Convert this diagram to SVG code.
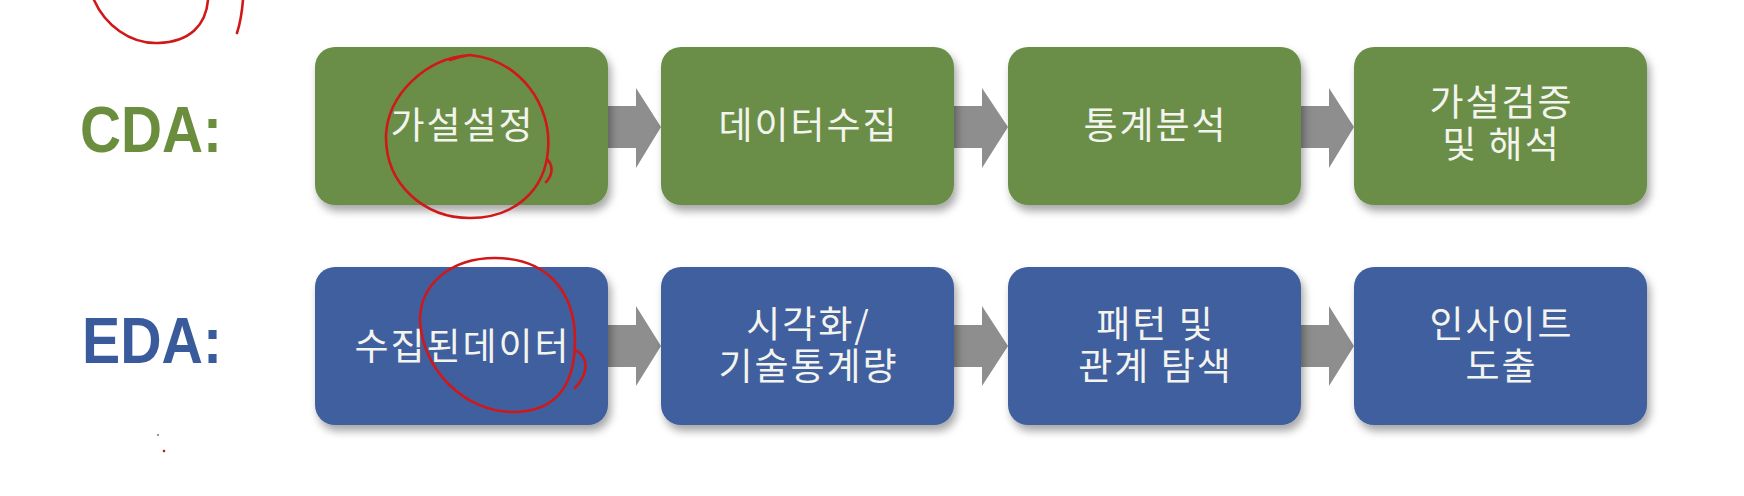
<svg xmlns="http://www.w3.org/2000/svg" width="1744" height="496" viewBox="0 0 1744 496">
<style>
.g{fill:#6B8E46}
.b{fill:#3F5F9F}
.t{font-family:"Noto Sans CJK KR","Noto Sans",sans-serif;font-size:37px;letter-spacing:2px;fill:#F4F4EE;text-anchor:middle}
.lab{font-family:"Liberation Sans",Arial,sans-serif;font-weight:bold;font-size:64px}
.arr{fill:#8E8E8E}
.red{fill:none;stroke:#D01818;stroke-width:2.6;stroke-linecap:round;stroke-linejoin:round}
</style>
<defs>
<filter id="sh" x="-10%" y="-10%" width="125%" height="130%">
<feDropShadow dx="3" dy="6" stdDeviation="4" flood-color="#000" flood-opacity="0.35"/>
</filter>
</defs>
<rect width="1744" height="496" fill="#FFFFFF"/>
<text class="lab" x="80" y="152" fill="#6A8E3D" textLength="142" lengthAdjust="spacingAndGlyphs">CDA:</text>
<text class="lab" x="82" y="363" fill="#3A5B9B" textLength="140" lengthAdjust="spacingAndGlyphs">EDA:</text>
<g id="connectors">
<polygon class="arr" points="606,106 636,106 636,88 661,127 636,168 636,148 606,148"/>
<polygon class="arr" points="952,106 982,106 982,88 1008,127 982,168 982,148 952,148"/>
<polygon class="arr" points="1299,106 1329,106 1329,88 1354,127 1329,168 1329,148 1299,148"/>
<polygon class="arr" points="606,325 636,325 636,306 661,346 636,386 636,367 606,367"/>
<polygon class="arr" points="952,325 982,325 982,306 1008,346 982,386 982,367 952,367"/>
<polygon class="arr" points="1299,325 1329,325 1329,306 1354,346 1329,386 1329,367 1299,367"/>
</g>
<g id="cda1"><rect class="g" x="315" y="47" width="293" height="158" rx="20" filter="url(#sh)"/><text class="t" x="462.5" y="139">가설설정</text></g>
<g id="cda2"><rect class="g" x="661" y="47" width="293" height="158" rx="20" filter="url(#sh)"/><text class="t" x="808.5" y="139">데이터수집</text></g>
<g id="cda3"><rect class="g" x="1008" y="47" width="293" height="158" rx="20" filter="url(#sh)"/><text class="t" x="1155.5" y="139">통계분석</text></g>
<g id="cda4"><rect class="g" x="1354" y="47" width="293" height="158" rx="20" filter="url(#sh)"/><text class="t" x="1501.5" y="116">가설검증<tspan x="1501.5" dy="42">및 해석</tspan></text></g>
<g id="eda1"><rect class="b" x="315" y="267" width="293" height="158" rx="20" filter="url(#sh)"/><text class="t" x="462.5" y="360">수집된데이터</text></g>
<g id="eda2"><rect class="b" x="661" y="267" width="293" height="158" rx="20" filter="url(#sh)"/><text class="t" x="808.5" y="338">시각화/<tspan x="808.5" dy="42">기술통계량</tspan></text></g>
<g id="eda3"><rect class="b" x="1008" y="267" width="293" height="158" rx="20" filter="url(#sh)"/><text class="t" x="1155.5" y="338">패턴 및<tspan x="1155.5" dy="42">관계 탐색</tspan></text></g>
<g id="eda4"><rect class="b" x="1354" y="267" width="293" height="158" rx="20" filter="url(#sh)"/><text class="t" x="1501.5" y="338">인사이트<tspan x="1501.5" dy="42">도출</tspan></text></g>
<g id="annotations">
<path class="red" d="M94,0 C105,25 130,44 158,43 C190,42 206,25 208,0"/>
<path class="red" d="M243,0 C242,12 240,24 237,33"/>
<path class="red" d="M470,55 C425,58 388,95 386,135 C385,185 425,218 470,218 C515,218 545,190 548,150 C552,105 520,60 470,55 C462,56 455,58 450,60 M548,160 C553,166 553,175 546,182"/>
<path class="red" d="M495,258 C450,258 420,285 420,320 C422,370 465,412 513,412 C560,412 575,380 575,340 C575,295 550,258 495,258 M575,350 C588,356 590,372 575,388"/>
<circle cx="164" cy="451" r="1.3" fill="#B02020"/>
<circle cx="158" cy="435" r="0.9" fill="#666"/>
</g>
</svg>
